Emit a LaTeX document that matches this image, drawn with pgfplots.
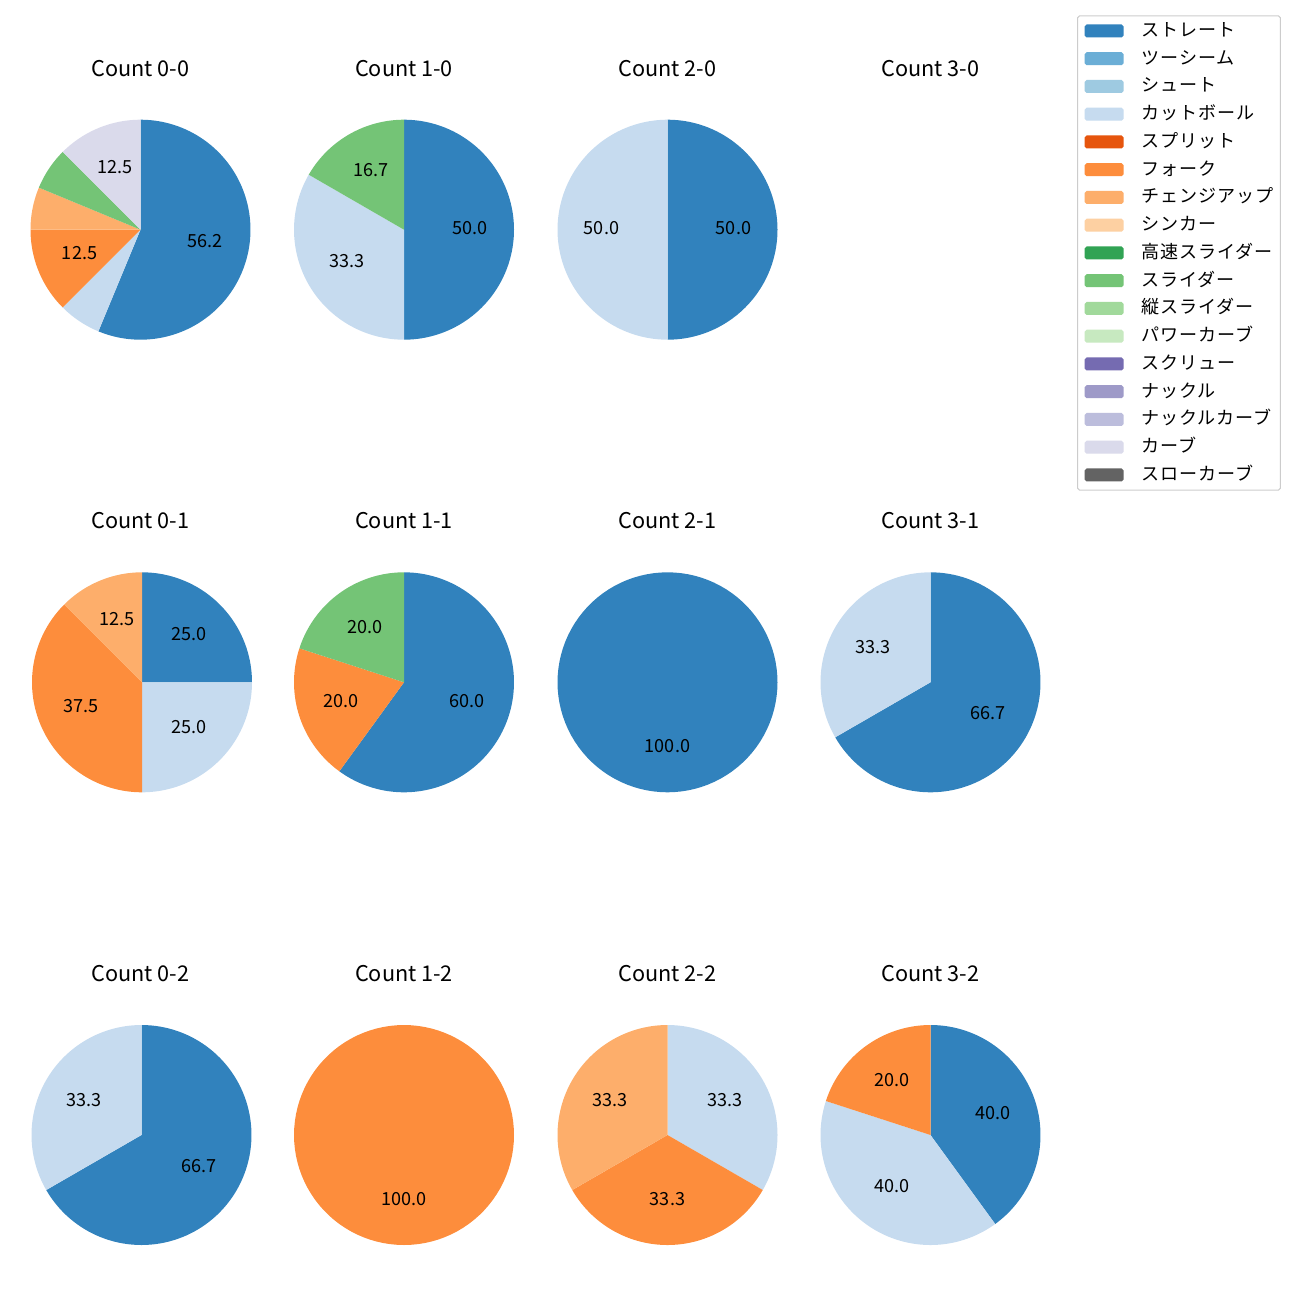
\documentclass[border=0pt]{standalone}
\usepackage{fontspec}
\setmainfont{Noto Sans CJK JP}
\newfontfamily\lgfont[LetterSpace=5]{Noto Sans CJK JP}
\usepackage{pgfplots}
\pgfplotsset{compat=1.18}
\definecolor{cStr}{HTML}{3182BD}
\definecolor{cTwo}{HTML}{6BAED6}
\definecolor{cSht}{HTML}{9ECAE1}
\definecolor{cCut}{HTML}{C6DBEF}
\definecolor{cSpl}{HTML}{E6550D}
\definecolor{cFrk}{HTML}{FD8D3C}
\definecolor{cChg}{HTML}{FDAE6B}
\definecolor{cSnk}{HTML}{FDD0A2}
\definecolor{cHsl}{HTML}{31A354}
\definecolor{cSld}{HTML}{74C476}
\definecolor{cVsl}{HTML}{A1D99B}
\definecolor{cPcv}{HTML}{C7E9C0}
\definecolor{cScr}{HTML}{756BB1}
\definecolor{cKnu}{HTML}{9E9AC8}
\definecolor{cKcv}{HTML}{BCBDDC}
\definecolor{cCrv}{HTML}{DADAEB}
\definecolor{cSlc}{HTML}{636363}
\newcommand{\uu}{0.553846pt}
\newcommand{\lblfont}{\fontsize{10}{12}\selectfont}
\newcommand{\ttlfont}{\fontsize{12}{14}\selectfont}
% slice: start percent, end percent, colour
\newcommand{\slice}[3]{\addplot[fill=#3, draw=none, variable=\t, samples at={0,1,...,100,200}]
 ({\t>150 ? 0 : cos(90-3.6*(#1+(#2-#1)*\t/100))}, {\t>150 ? 0 : sin(90-3.6*(#1+(#2-#1)*\t/100))});}
% label: middle percent, text
\newcommand{\plabel}[2]{\node[font=\lblfont, yshift=1.1pt] at (axis cs:{0.6*cos(90-3.6*(#1))},{0.6*sin(90-3.6*(#1))}) {#2};}
\pgfplotsset{pie/.style={hide axis, anchor=center, x=60.92pt, y=60.92pt,
  xmin=-1, xmax=1, ymin=-1, ymax=1, clip=false, no markers}}
\begin{document}
\begin{tikzpicture}
\path[use as bounding box] (0,0) rectangle (720pt,-720pt);
% ---------- row 0 ----------
\begin{axis}[pie, at={({140.5*\uu},{-229.7*\uu})}]
\slice{0}{56.25}{cStr}
\slice{56.25}{62.5}{cCut}
\slice{62.5}{75}{cFrk}
\slice{75}{81.25}{cChg}
\slice{81.25}{87.5}{cSld}
\slice{87.5}{100}{cCrv}
\plabel{28.125}{56.2}
\plabel{68.75}{12.5}
\plabel{93.75}{12.5}
\end{axis}
\begin{axis}[pie, at={({404*\uu},{-229.7*\uu})}]
\slice{0}{50}{cStr}
\slice{50}{83.333}{cCut}
\slice{83.333}{100}{cSld}
\plabel{25}{50.0}
\plabel{66.667}{33.3}
\plabel{91.667}{16.7}
\end{axis}
\begin{axis}[pie, at={({667.5*\uu},{-229.7*\uu})}]
\slice{0}{50}{cStr}
\slice{50}{100}{cCut}
\plabel{25}{50.0}
\plabel{75}{50.0}
\end{axis}
% ---------- row 1 ----------
\begin{axis}[pie, at={({142*\uu},{-682.3*\uu})}]
\slice{0}{25}{cStr}
\slice{25}{50}{cCut}
\slice{50}{87.5}{cFrk}
\slice{87.5}{100}{cChg}
\plabel{12.5}{25.0}
\plabel{37.5}{25.0}
\plabel{68.75}{37.5}
\plabel{93.75}{12.5}
\end{axis}
\begin{axis}[pie, at={({404*\uu},{-682.3*\uu})}]
\slice{0}{60}{cStr}
\slice{60}{80}{cFrk}
\slice{80}{100}{cSld}
\plabel{30}{60.0}
\plabel{70}{20.0}
\plabel{90}{20.0}
\end{axis}
\begin{axis}[pie, at={({667.5*\uu},{-682.3*\uu})}]
\slice{0}{100}{cStr}
\plabel{50}{100.0}
\end{axis}
\begin{axis}[pie, at={({930.5*\uu},{-682.3*\uu})}]
\slice{0}{66.667}{cStr}
\slice{66.667}{100}{cCut}
\plabel{33.333}{66.7}
\plabel{83.333}{33.3}
\end{axis}
% ---------- row 2 ----------
\begin{axis}[pie, at={({141.5*\uu},{-1135*\uu})}]
\slice{0}{66.667}{cStr}
\slice{66.667}{100}{cCut}
\plabel{33.333}{66.7}
\plabel{83.333}{33.3}
\end{axis}
\begin{axis}[pie, at={({404*\uu},{-1135*\uu})}]
\slice{0}{100}{cFrk}
\plabel{50}{100.0}
\end{axis}
\begin{axis}[pie, at={({667.5*\uu},{-1135*\uu})}]
\slice{0}{33.333}{cCut}
\slice{33.333}{66.667}{cFrk}
\slice{66.667}{100}{cChg}
\plabel{16.667}{33.3}
\plabel{50}{33.3}
\plabel{83.333}{33.3}
\end{axis}
\begin{axis}[pie, at={({930.5*\uu},{-1135*\uu})}]
\slice{0}{40}{cStr}
\slice{40}{80}{cCut}
\slice{80}{100}{cFrk}
\plabel{20}{40.0}
\plabel{60}{40.0}
\plabel{90}{20.0}
\end{axis}
% ---------- titles ----------
\foreach \cx/\lab in {140.5/0, 404/1, 667.5/2, 930.5/3}{
  \node[font=\ttlfont, anchor=base] at ({\cx*\uu},{-76*\uu}) {Count \lab-0};
  \node[font=\ttlfont, anchor=base] at ({\cx*\uu},{-528.6*\uu}) {Count \lab-1};
  \node[font=\ttlfont, anchor=base] at ({\cx*\uu},{-981*\uu}) {Count \lab-2};
}
% ---------- legend ----------
\begin{axis}[at={({1077*\uu},{-15.3*\uu})}, anchor=north west, hide axis, scale only axis,
  width=2cm, height=2cm, xmin=0, xmax=1, ymin=0, ymax=1,
  legend cell align=left,
  legend style={at={(0,1)}, anchor=north west, draw=black!20, rounded corners=1.1pt,
    line width=0.55pt, font=\lgfont\lblfont, inner xsep=3.9pt, inner ysep=3.4pt,
    row sep=5.37pt, column sep=0pt,
    nodes={inner sep=0pt, text height=8pt, text depth=2pt}},
  legend image code/.code={\fill[#1] (0pt,-3.6pt) rectangle (21.6pt,3.6pt); \path (31.6pt,0pt);}]
\addlegendimage{fill=cStr, draw=none}\addlegendentry{ストレート}
\addlegendimage{fill=cTwo, draw=none}\addlegendentry{ツーシーム}
\addlegendimage{fill=cSht, draw=none}\addlegendentry{シュート}
\addlegendimage{fill=cCut, draw=none}\addlegendentry{カットボール}
\addlegendimage{fill=cSpl, draw=none}\addlegendentry{スプリット}
\addlegendimage{fill=cFrk, draw=none}\addlegendentry{フォーク}
\addlegendimage{fill=cChg, draw=none}\addlegendentry{チェンジアップ}
\addlegendimage{fill=cSnk, draw=none}\addlegendentry{シンカー}
\addlegendimage{fill=cHsl, draw=none}\addlegendentry{高速スライダー}
\addlegendimage{fill=cSld, draw=none}\addlegendentry{スライダー}
\addlegendimage{fill=cVsl, draw=none}\addlegendentry{縦スライダー}
\addlegendimage{fill=cPcv, draw=none}\addlegendentry{パワーカーブ}
\addlegendimage{fill=cScr, draw=none}\addlegendentry{スクリュー}
\addlegendimage{fill=cKnu, draw=none}\addlegendentry{ナックル}
\addlegendimage{fill=cKcv, draw=none}\addlegendentry{ナックルカーブ}
\addlegendimage{fill=cCrv, draw=none}\addlegendentry{カーブ}
\addlegendimage{fill=cSlc, draw=none}\addlegendentry{スローカーブ}
\end{axis}
\end{tikzpicture}
\end{document}
